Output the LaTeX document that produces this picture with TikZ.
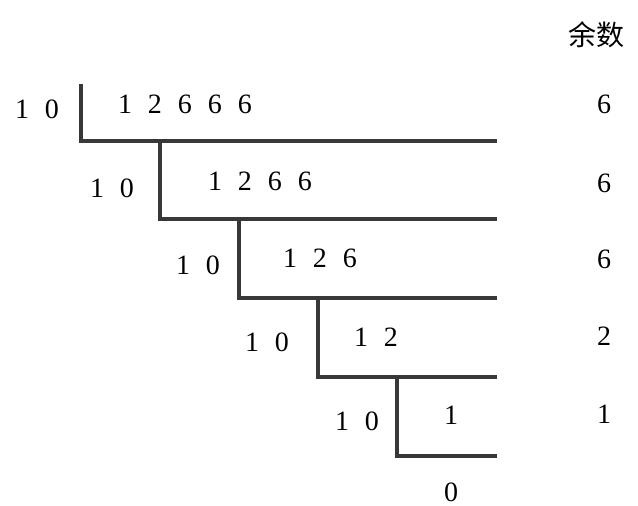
\documentclass[tikz,border=0pt]{standalone}
\usepackage{fontspec}
\setmainfont{Liberation Serif}
\newfontfamily\cjk{Noto Sans CJK SC}
\newcommand{\numfont}{\fontsize{21}{25}\selectfont\spaceskip=12pt plus 0pt minus 0pt\relax}
\tikzset{
	num/.style={inner sep=0pt, font=\numfont},
	bar/.style={line width=2.3pt, draw=black!78},
}
\begin{document}
\begin{tikzpicture}[x=0.75pt, y=-0.75pt]
	\useasboundingbox (0,0) rectangle (638,506);

	% brackets of the division
	\draw [bar] (81,84) -- (81,141) -- (497,141);
	\draw [bar] (160,141) -- (160,219) -- (497,219);
	\draw [bar] (239,219) -- (239,298) -- (497,298);
	\draw [bar] (318,298) -- (318,377) -- (497,377);
	\draw [bar] (397,377) -- (397,456) -- (497,456);

	% divisors
	\node[num] (div1) at (37,109) {1 0};
	\node[num] (div2) at (112,188) {1 0};
	\node[num] (div3) at (198,265) {1 0};
	\node[num] (div4) at (267,342) {1 0};
	\node[num] (div5) at (357,421) {1 0};

	% quotients
	\node[num] (q1) at (185,104) {1 2 6 6 6};
	\node[num] (q2) at (260,181) {1 2 6 6};
	\node[num] (q3) at (320,258) {1 2 6};
	\node[num] (q4) at (376,337) {1 2};
	\node[num] (q5) at (451,415) {1};
	\node[num] (q6) at (451,492) {0};

	% remainders
	\node[num, font=\fontsize{21}{25}\selectfont\cjk] (head) at (596,35) {余数};
	\node[num] (r1) at (604,104) {6};
	\node[num] (r2) at (604,183) {6};
	\node[num] (r3) at (604,259) {6};
	\node[num] (r4) at (604,336) {2};
	\node[num] (r5) at (604,414) {1};

\end{tikzpicture}
\end{document}
